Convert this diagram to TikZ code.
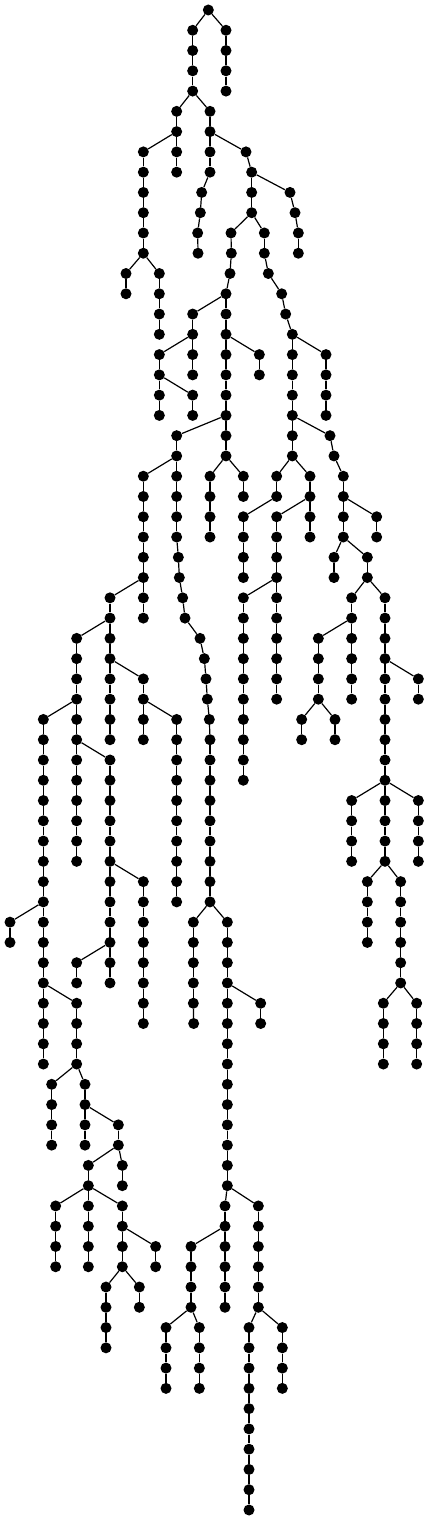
\documentclass[tikz,border=0pt]{standalone}
\tikzset{
  dot/.style={circle,fill=black,draw=none,inner sep=0pt,minimum size=11pt},
  edge/.style={line width=1.2pt,black}
}
% #1 parent node name, #2 depth of first child, #3 list of x positions (3x pixel units)
\newcommand\Br[3]{%
  \xdef\prev{#1}%
  \foreach \xx [count=\i from 0] in {#3} {%
    \pgfmathtruncatemacro\dd{#2+\i}%
    \node[dot] (n\dd-\xx) at ({\xx/3},{10+\dd*20.27}) {};
    \draw[edge] (\prev) -- (n\dd-\xx);
    \xdef\prev{n\dd-\xx}%
  }%
}
\begin{document}
\begin{tikzpicture}[x=1pt,y=-1pt]
\useasboundingbox (0,0) rectangle (428,1520);
\node[dot] (n0-625) at ({625/3},10) {};
\Br{n0-625}{1}{678,678,678,678}
\Br{n0-625}{1}{578,578,578,578}
\Br{n4-578}{5}{530,530}
\Br{n6-530}{7}{530,530}
\Br{n6-530}{7}{430,430,430,430,430,430}
\Br{n12-430}{13}{378,378}
\Br{n12-430}{13}{478,478,478,478}
\Br{n4-578}{5}{630,630}
\Br{n6-630}{7}{630,630,605,601,593,594}
\Br{n6-630}{7}{738,755}
\Br{n8-755}{9}{870,885,895,895}
\Br{n8-755}{9}{755,755}
\Br{n10-755}{11}{693,694,690,678}
\Br{n10-755}{11}{793,793,805,845,857,877}
\Br{n14-678}{15}{578,578}
\Br{n14-678}{15}{678,678}
\Br{n16-578}{17}{478,478}
\Br{n16-578}{17}{578,578}
\Br{n18-478}{19}{478,478}
\Br{n18-478}{19}{578,578}
\Br{n16-678}{17}{678,678,678,678}
\Br{n16-678}{17}{778,778}
\Br{n16-877}{17}{877,877,877,877}
\Br{n16-877}{17}{978,978,978,978}
\Br{n20-678}{21}{530,530}
\Br{n20-678}{21}{678,678}
\Br{n20-877}{21}{877,877}
\Br{n20-877}{21}{990,1002,1030,1030}
\Br{n22-530}{23}{430,430,430,430,430,430}
\Br{n22-530}{23}{530,530,530,530,535,538,548,555,600,613,618,622,628,630,630,630,630,630,630,630,630,630}
\Br{n22-678}{23}{630,630,630,630}
\Br{n22-678}{23}{730,730}
\Br{n22-877}{23}{830,830,730,730,730,730}
\Br{n22-877}{23}{930,930}
\Br{n24-930}{25}{830,830,830,830}
\Br{n24-930}{25}{930,930}
\Br{n28-830}{29}{730,730,730,730,730,730,730,730,730,730}
\Br{n28-830}{29}{830,830,830,830,830,830}
\Br{n24-1030}{25}{1030,1030}
\Br{n24-1030}{25}{1130,1130}
\Br{n26-1030}{27}{1002,1002}
\Br{n26-1030}{27}{1102,1102}
\Br{n28-1102}{29}{1055,1055}
\Br{n28-1102}{29}{1155,1155,1155,1155}
\Br{n30-1055}{31}{955,955,955,955}
\Br{n30-1055}{31}{1055,1055,1055,1055}
\Br{n34-955}{35}{905,905}
\Br{n34-955}{35}{1005,1005}
\Br{n32-1155}{33}{1155,1155,1155,1155,1155,1155}
\Br{n32-1155}{33}{1255,1255}
\Br{n38-1155}{39}{1055,1055,1055,1055}
\Br{n38-1155}{39}{1155,1155,1155,1155}
\Br{n38-1155}{39}{1255,1255,1255,1255}
\Br{n42-1155}{43}{1102,1102,1102,1102}
\Br{n42-1155}{43}{1202,1202,1202,1202,1202,1202}
\Br{n48-1202}{49}{1150,1150,1150,1150}
\Br{n48-1202}{49}{1250,1250,1250,1250}
\Br{n28-430}{29}{330,330}
\Br{n28-430}{29}{430,430}
\Br{n30-330}{31}{230,230,230,230}
\Br{n30-330}{31}{330,330}
\Br{n34-230}{35}{130,130,130,130,130,130,130,130,130,130}
\Br{n34-230}{35}{230,230}
\Br{n36-230}{37}{230,230,230,230,230,230}
\Br{n36-230}{37}{330,330,330,330,330,330}
\Br{n32-330}{33}{330,330,330,330}
\Br{n32-330}{33}{430,430}
\Br{n34-430}{35}{430,430}
\Br{n34-430}{35}{530,530,530,530,530,530,530,530,530,530}
\Br{n42-330}{43}{330,330,330,330}
\Br{n42-330}{43}{430,430,430,430,430,430,430,430}
\Br{n46-330}{47}{230,230}
\Br{n46-330}{47}{330,330}
\Br{n44-130}{45}{30,30}
\Br{n44-130}{45}{130,130,130,130}
\Br{n48-130}{49}{130,130,130,130}
\Br{n48-130}{49}{230,230,230,230}
\Br{n52-230}{53}{155,155,155,155}
\Br{n52-230}{53}{255,255}
\Br{n54-255}{55}{255,255}
\Br{n54-255}{55}{355,355}
\Br{n56-355}{57}{265,265}
\Br{n56-355}{57}{367,367}
\Br{n58-265}{59}{167,167,167,167}
\Br{n58-265}{59}{265,265,265,265}
\Br{n58-265}{59}{367,367}
\Br{n60-367}{61}{367,367}
\Br{n60-367}{61}{467,467}
\Br{n62-367}{63}{318,318,318,318}
\Br{n62-367}{63}{418,418}
\Br{n44-630}{45}{580,580,580,580,580,581}
\Br{n44-630}{45}{682,682,682,682}
\Br{n48-682}{49}{782,782}
\Br{n48-682}{49}{682,682,682,682,682,682,682,682,682,682}
\Br{n58-682}{59}{675,675}
\Br{n58-682}{59}{775,775,775,775,775,775}
\Br{n60-675}{61}{573,573,573,573}
\Br{n60-675}{61}{675,675,675,675}
\Br{n64-573}{65}{498,498,498,498}
\Br{n64-573}{65}{598,598,598,598}
\Br{n64-775}{65}{747,747,747,747,747,747,747,747,747,747}
\Br{n64-775}{65}{847,847,847,847}
\end{tikzpicture}
\end{document}
